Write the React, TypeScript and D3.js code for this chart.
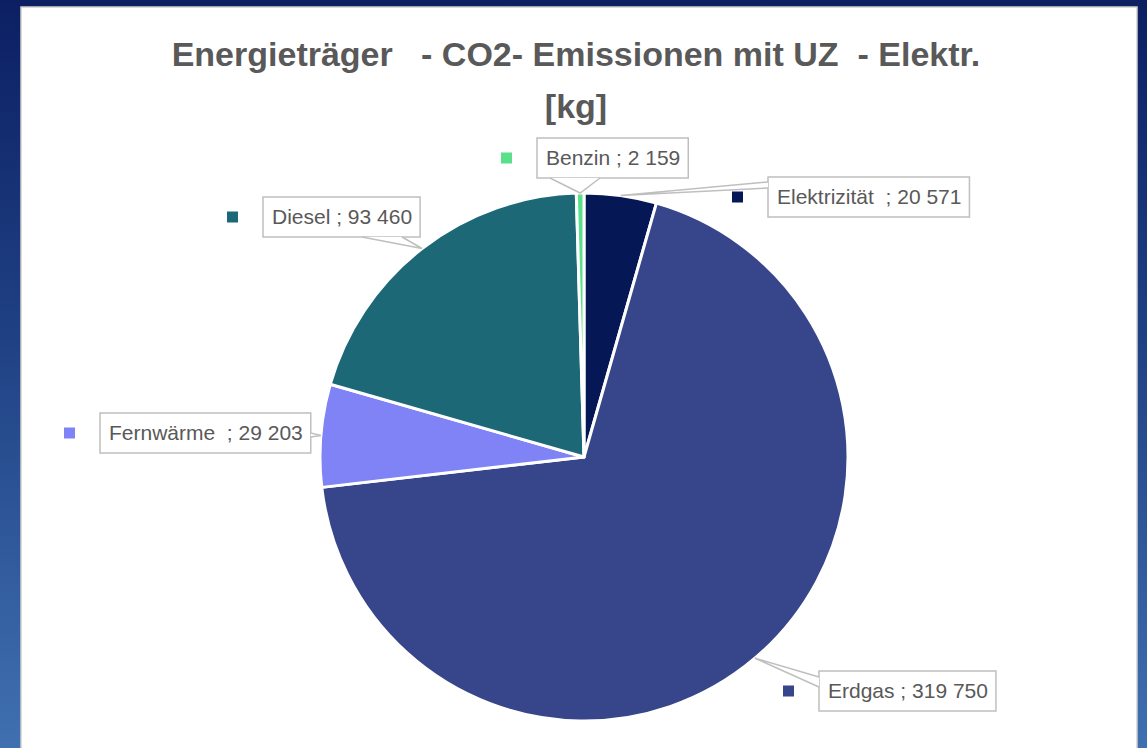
import React, { useEffect, useRef } from 'react';
import * as d3 from 'd3';

// chart data
const categories = ["Elektrizität ", "Erdgas", "Fernwärme ", "Diesel", "Benzin"];
const values = [20571, 319750, 29203, 93460, 2159];
const colors = ["#061755", "#37458a", "#7f83f6", "#1c6877", "#5ae08b"];
const titleLines = ["Energieträger   - CO2- Emissionen mit UZ  - Elektr.", "[kg]"];

// callout placement relative to the pie centre (box top-left) + where the wedge leaves the box
const calloutPos = [
  { dx: 184, dy: -280, side: "left", b0: 5, b1: 11 },
  { dx: 235, dy: 214, side: "left", b0: 6, b1: 16 },
  { dx: -484, dy: -44, side: "right", b0: 20, b1: 24 },
  { dx: -321, dy: -260, side: "bottom", b0: 99, b1: 139 },
  { dx: -47, dy: -319, side: "bottom", b0: 13, b1: 63 },
];

const W = 1147;
const H = 748;

const App = () => {
  const ref = useRef<SVGSVGElement | null>(null);

  useEffect(() => {
    const svg = d3.select(ref.current);
    svg.selectAll("*").remove();

    const defs = svg.append("defs");
    const grad = defs.append("linearGradient").attr("id", "bg").attr("x1", 0).attr("y1", 0).attr("x2", 0).attr("y2", 1);
    grad.append("stop").attr("offset", "0%").attr("stop-color", "#0c1f63");
    grad.append("stop").attr("offset", "45%").attr("stop-color", "#1f4184");
    grad.append("stop").attr("offset", "100%").attr("stop-color", "#4070b0");

    svg.append("rect").attr("width", W).attr("height", H).attr("fill", "url(#bg)");
    svg.append("rect")
      .attr("x", 21).attr("y", 7).attr("width", 1116).attr("height", H)
      .attr("fill", "#ffffff").attr("stroke", "#d0d0d0").attr("stroke-width", 1.5);

    const font = "'Liberation Sans', Arial, sans-serif";

    // title
    svg.selectAll(".title")
      .data(titleLines)
      .join("text")
      .attr("class", "title")
      .attr("x", 576)
      .attr("y", (d, i) => 66 + i * 52)
      .attr("text-anchor", "middle")
      .attr("xml:space", "preserve")
      .style("white-space", "pre")
      .style("font-family", font)
      .style("font-weight", "bold")
      .style("font-size", "34px")
      .attr("fill", "#595959")
      .text(d => d);

    const cx = 584, cy = 457, r = 264;
    const data = categories.map((c, i) => ({ name: c, value: values[i], color: colors[i], pos: calloutPos[i] }));
    const pie = d3.pie<any>().value(d => d.value).sort(null);
    const arcs = pie(data);
    const arc = d3.arc<any>().innerRadius(0).outerRadius(r);
    const edge = d3.arc<any>().innerRadius(r).outerRadius(r);

    const g = svg.append("g").attr("transform", `translate(${cx},${cy})`);
    g.selectAll("path.slice")
      .data(arcs)
      .join("path")
      .attr("class", "slice")
      .attr("d", arc)
      .attr("fill", d => d.data.color)
      .attr("stroke", "#ffffff")
      .attr("stroke-width", 3)
      .attr("stroke-linejoin", "round");

    const fmt = d3.formatLocale({ decimal: ",", thousands: " ", grouping: [3], currency: ["", ""] }).format(",d");

    const labels = svg.append("g");
    arcs.forEach(a => {
      const p = a.data.pos;
      const bx = cx + p.dx, by = cy + p.dy, bh = 40;
      const [tx, ty] = edge.centroid(a);
      const tip = [cx + tx, cy + ty];
      const lg = labels.append("g");
      const rect = lg.append("rect").attr("x", bx).attr("y", by).attr("height", bh)
        .attr("fill", "#ffffff").attr("stroke", "#bfbfbf").attr("stroke-width", 1.5);
      const txt = lg.append("text")
        .attr("x", bx + 9).attr("y", by + 27)
        .attr("xml:space", "preserve")
        .style("white-space", "pre")
        .style("font-family", font)
        .style("font-size", "21px")
        .attr("fill", "#595959")
        .text(`${a.data.name} ; ${fmt(a.data.value)}`);
      const bw = (txt.node() as SVGTextElement).getComputedTextLength() + 17;
      rect.attr("width", bw);

      let b0: number[], b1: number[];
      if (p.side === "left") { b0 = [bx, by + p.b0]; b1 = [bx, by + p.b1]; }
      else if (p.side === "right") { b0 = [bx + bw, by + p.b0]; b1 = [bx + bw, by + p.b1]; }
      else { b0 = [bx + p.b0, by + bh]; b1 = [bx + p.b1, by + bh]; }
      lg.insert("path", "text")
        .attr("d", `M${b0[0]},${b0[1]}L${tip[0]},${tip[1]}L${b1[0]},${b1[1]}Z`)
        .attr("fill", "#ffffff").attr("stroke", "none");
      lg.insert("path", "text")
        .attr("d", `M${b0[0]},${b0[1]}L${tip[0]},${tip[1]}L${b1[0]},${b1[1]}`)
        .attr("fill", "none").attr("stroke", "#bfbfbf").attr("stroke-width", 1.5);

      // legend key
      lg.append("rect")
        .attr("x", bx - 36).attr("y", by + bh / 2 - 5.5)
        .attr("width", 11).attr("height", 11)
        .attr("fill", a.data.color);
    });
  }, []);

  return (
    <svg ref={ref} width={W} height={H} style={{ position: "absolute", left: 0, top: 0, display: "block" }} />
  );
};

export default App;
